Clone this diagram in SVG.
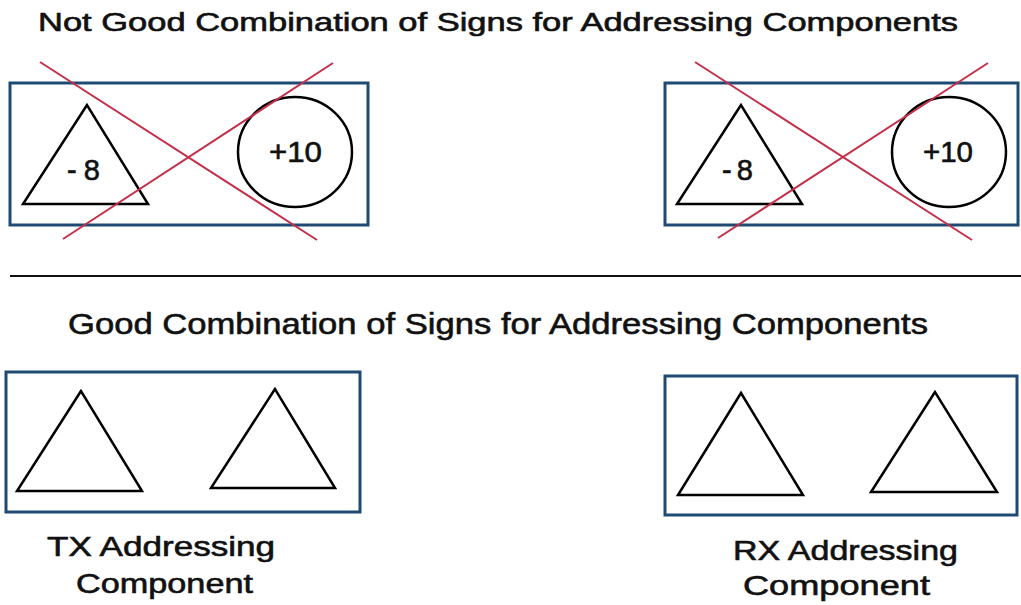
<svg xmlns="http://www.w3.org/2000/svg" width="1021" height="605" viewBox="0 0 1021 605">
<style>
.box{fill:none;stroke:#1f4a72;stroke-width:3}
.shape{fill:none;stroke:#000;stroke-width:2.5;stroke-linejoin:miter}
.cross{stroke:#c4304a;stroke-width:2;fill:none}
.t{font-family:"Liberation Sans",Arial,sans-serif;fill:#111;stroke:#111;stroke-width:0.6}
.sep{stroke:#111;stroke-width:2}
</style>
<rect width="1021" height="605" fill="#fff"/>
<text class="t" x="38" y="31" font-size="25" textLength="920" lengthAdjust="spacingAndGlyphs">Not Good Combination of Signs for Addressing Components</text>
<g id="bad-left">
<rect class="box" x="10" y="83" width="358" height="142"/>
<polygon class="shape" points="87,105 23,204 148,204"/>
<text class="t" x="67" y="180" font-size="29" textLength="33" lengthAdjust="spacing">-8</text>
<ellipse class="shape" cx="295" cy="152" rx="57" ry="55"/>
<text class="t" x="269" y="162" font-size="29" textLength="53" lengthAdjust="spacingAndGlyphs">+10</text>
<line class="cross" x1="40" y1="62" x2="317" y2="240"/>
<line class="cross" x1="333" y1="63" x2="63" y2="239"/>
</g>
<g id="bad-right">
<rect class="box" x="665" y="83" width="353" height="142"/>
<polygon class="shape" points="741,105 677,204 802,204"/>
<text class="t" x="722" y="180" font-size="29" textLength="31" lengthAdjust="spacing">-8</text>
<ellipse class="shape" cx="949" cy="152" rx="57" ry="55"/>
<text class="t" x="923" y="162" font-size="29" textLength="50" lengthAdjust="spacingAndGlyphs">+10</text>
<line class="cross" x1="695" y1="62" x2="972" y2="240"/>
<line class="cross" x1="988" y1="63" x2="718" y2="238"/>
</g>
<line class="sep" x1="10" y1="276" x2="1021" y2="276"/>
<text class="t" x="68" y="334" font-size="30" textLength="860" lengthAdjust="spacingAndGlyphs">Good Combination of Signs for Addressing Components</text>
<g id="tx">
<rect class="box" x="6" y="372" width="354" height="140"/>
<polygon class="shape" points="81,391 17,491 142,491"/>
<polygon class="shape" points="275,389 211,488 335,488"/>
<text class="t" x="47" y="556" font-size="27" textLength="228" lengthAdjust="spacingAndGlyphs">TX Addressing</text>
<text class="t" x="76" y="593" font-size="27" textLength="177" lengthAdjust="spacingAndGlyphs">Component</text>
</g>
<g id="rx">
<rect class="box" x="665" y="376" width="352" height="139"/>
<polygon class="shape" points="741,393 678,495 803,495"/>
<polygon class="shape" points="935,392 871,492 997,492"/>
<text class="t" x="733" y="560" font-size="28" textLength="225" lengthAdjust="spacingAndGlyphs">RX Addressing</text>
<text class="t" x="743" y="595" font-size="28" textLength="187" lengthAdjust="spacingAndGlyphs">Component</text>
</g>
<g id="connectors"/>
</svg>
